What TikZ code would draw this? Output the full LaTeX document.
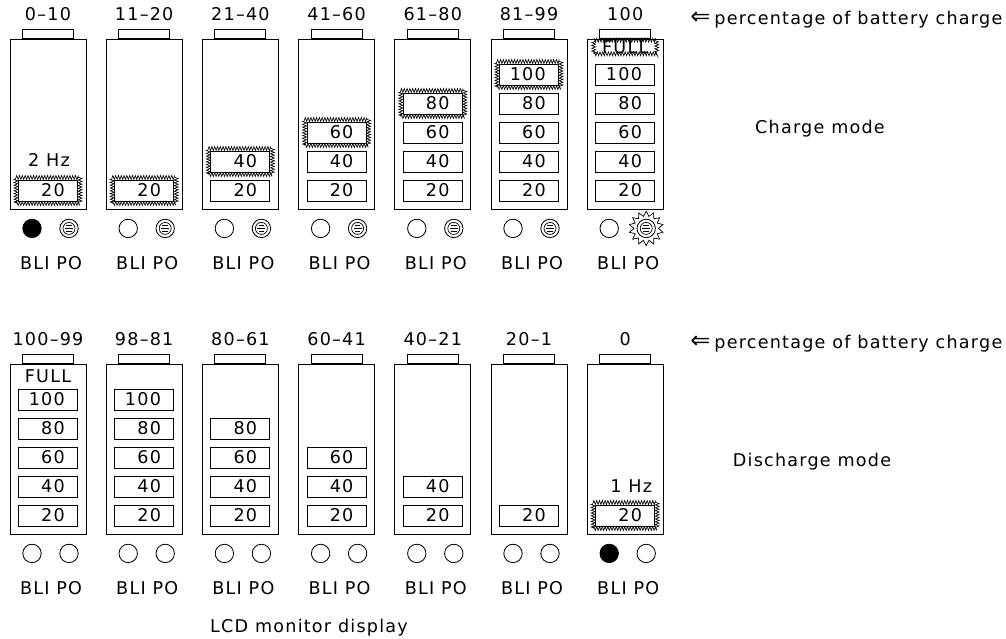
\documentclass[tikz,border=0pt]{standalone}
\usepackage{fontspec}
\setmainfont{DejaVu Sans}[LetterSpace=7]
\usetikzlibrary{decorations.pathmorphing,shapes.geometric}

\begin{document}
\begin{tikzpicture}[x=0.25mm,y=-0.25mm,line width=0.6pt,
    font=\fontsize{12.5}{14}\selectfont,
    bat/.style={draw,minimum width=19mm,minimum height=42.5mm,inner sep=0pt},
    batcap/.style={draw,minimum width=12.75mm,minimum height=2.25mm,inner sep=0pt,anchor=south},
    bar/.style={draw,minimum width=14.75mm,minimum height=5.25mm,inner sep=0pt},
    jag/.style={draw,line width=0.45pt,decorate,decoration={zigzag,segment length=0.7mm,amplitude=0.5mm},
      minimum width=16mm,minimum height=6.5mm,inner sep=0pt},
    num/.style={anchor=east,inner sep=0pt},
    led/.style={draw,circle,minimum size=4.6mm,inner sep=0pt},
    po/.style={draw,circle,minimum size=4.6mm,inner sep=0pt,path picture={
        \draw[line width=0.5pt] (path picture bounding box.center) circle (1.5mm);
        \foreach \s/\w in {0.7mm/0.7mm,0mm/1mm,-0.7mm/0.7mm}
          \draw[line width=0.5pt] ([shift={(-\w,\s)}]path picture bounding box.center) -- ++(2*\w,0);}}]
  \useasboundingbox (0,0) rectangle (1006,639);

  % charge mode
  \foreach \lab/\jg/\bl [count=\i] in {0–10/1/black,11–20/1/white,21–40/2/white,41–60/3/white,
      61–80/4/white,81–99/5/white,100/6/white} {
    \node[bat] (c\i) at ({48+96.2*(\i-1)},124) {};
    \node[batcap] (c\i-cap) at (c\i.north) {};
    \path (c\i.north) ++(0,-18) node[anchor=base] (c\i-lab) {\lab};
    \foreach \k in {1,...,5} {
      \pgfmathtruncatemacro\val{20*\k}
      \ifnum\k>\jg\else
        \path (c\i.center) ++(0,{66.5-29*(\k-1)}) node[bar] (c\i-\k) {};
        \ifnum\k=\jg \node[jag] at (c\i-\k) {};\fi
        \node[num] at ([xshift=4.3mm]c\i-\k.center) {\val};
      \fi
    }
    \path (c\i.south) ++(-16,19) node[led,fill=\bl] (c\i-bli) {};
    \path (c\i.south) ++(21,19) node[po] (c\i-po) {};
    \path (c\i.south) ++(3,54) node (c\i-txt) {BLI PO};
  }
  \path (c7.center) ++(0,-77) node[jag,minimum width=15.75mm,minimum height=3.4mm] (c7-full) {FULL};
  \node[star,star points=14,star point ratio=1.4,minimum size=8.6mm,draw,line width=0.5pt] (c7-burst) at (c7-po) {};
  \path (c1.center) ++(1,36) node (c1-hz) {2 Hz};

  % discharge mode
  \foreach \lab/\top/\bl [count=\i] in {100–99/6/white,98–81/5/white,80–61/4/white,60–41/3/white,
      40–21/2/white,20–1/1/white,0/0/black} {
    \node[bat] (d\i) at ({48+96.2*(\i-1)},449) {};
    \node[batcap] (d\i-cap) at (d\i.north) {};
    \path (d\i.north) ++(0,-18) node[anchor=base] (d\i-lab) {\lab};
    \foreach \k in {1,...,5} {
      \pgfmathtruncatemacro\val{20*\k}
      \ifnum\k>\top\else
        \path (d\i.center) ++(0,{66.5-29*(\k-1)}) node[bar] (d\i-\k) {};
        \node[num] at ([xshift=4.3mm]d\i-\k.center) {\val};
      \fi
    }
    \ifnum\top=6 \path (d\i.center) ++(0,-73) node (d\i-full) {FULL};\fi
    \path (d\i.south) ++(-16,19) node[led,fill=\bl] (d\i-bli) {};
    \path (d\i.south) ++(21,19) node[led] (d\i-po) {};
    \path (d\i.south) ++(3,54) node (d\i-txt) {BLI PO};
  }
  \path (d7.center) ++(0,66.5) node[bar] (d7-1) {};
  \node[jag] at (d7-1) {};
  \node[num] at ([xshift=4.3mm]d7-1.center) {20};
  \path (d7.center) ++(6,37) node (d7-hz) {1 Hz};

  % side notes
  \node[anchor=base west,inner sep=0pt] (pct-c) at (690,25)
    {{\fontsize{17}{17}\selectfont ⇐}\hspace{1mm}percentage of battery charge};
  \node[anchor=base west,inner sep=0pt] (pct-d) at (690,349)
    {{\fontsize{17}{17}\selectfont ⇐}\hspace{1mm}percentage of battery charge};
  \node (mode-c) at (820,129) {Charge mode};
  \node (mode-d) at (812,462) {Discharge mode};
  \node (lcd) at (309,628) {LCD monitor display};
\end{tikzpicture}
\end{document}
